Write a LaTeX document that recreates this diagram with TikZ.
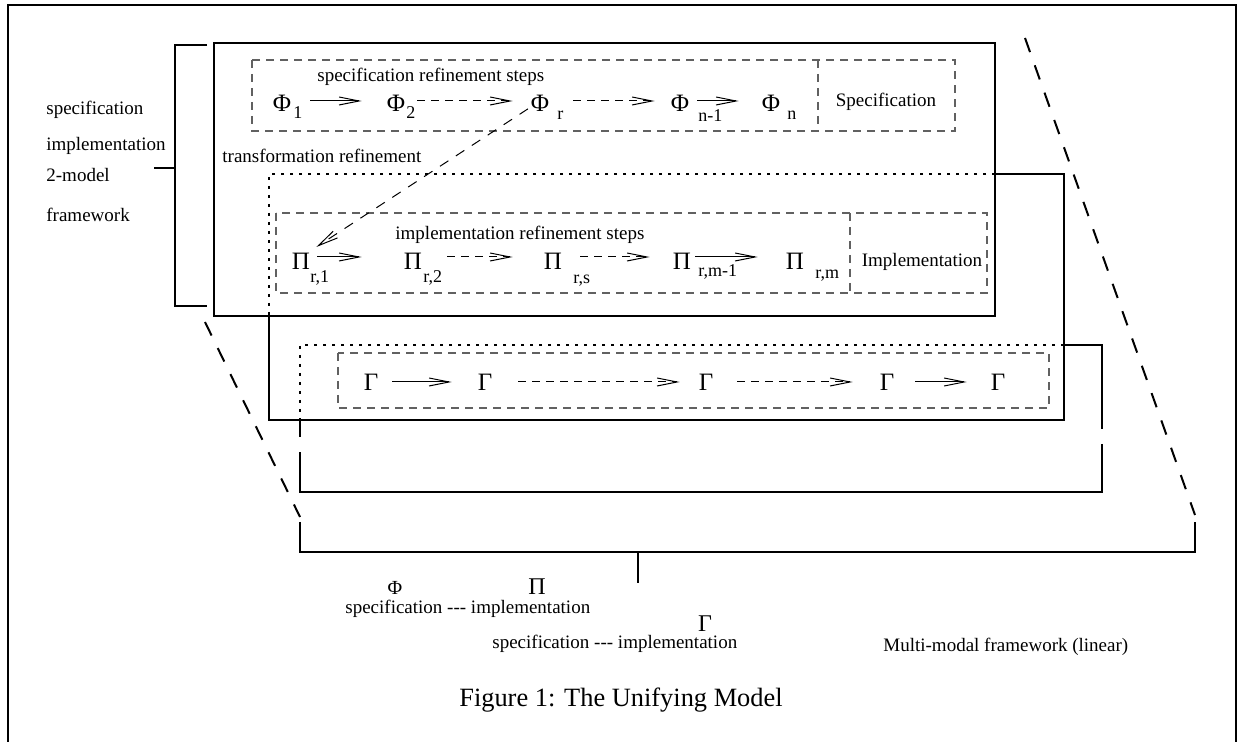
\documentclass[tikz,border=0pt]{standalone}
\usepackage{fontspec}
\setmainfont{Liberation Serif}
\usetikzlibrary{arrows.meta}
\newcommand\hyph{\mbox{-}}
\begin{document}
\begin{tikzpicture}[x=0.5pt,y=-0.5pt,
  heavy/.style={line width=1pt},
  dotted line/.style={line width=1.3pt, dash pattern=on 1.3pt off 3.2pt},
  graydash/.style={draw=black!62, line width=0.65pt, dash pattern=on 4pt off 3pt},
  funnel/.style={line width=1pt, dash pattern=on 7.5pt off 7pt},
  txt/.style={font=\fontsize{9.5}{11}\selectfont, inner sep=0pt},
  lbl/.style={txt, anchor=base west},
  ctr/.style={txt, anchor=base},
  sub/.style={font=\fontsize{9}{10}\selectfont, inner sep=0pt, anchor=base west},
  greek/.style={font=\fontsize{12.5}{14}\selectfont, inner sep=0pt, minimum width=10pt, anchor=base, text depth=0pt},
  phirow/.style={greek, text height=11pt},
  pirow/.style={greek, text height=13pt},
  gammarow/.style={greek, text height=9pt},
  legendgreek/.style={inner sep=0pt, anchor=base, text depth=0pt},
  sarrow/.style={line width=0.5pt, -{Straight Barb[length=10pt,width=4pt]}},
  darrow/.style={sarrow, dash pattern=on 4pt off 3pt},
  tarrow/.style={sarrow, dash pattern=on 5pt off 4.5pt}]
\useasboundingbox (0,0) rectangle (1247,742);

% page frame, open at the bottom
\draw[heavy] (8,742) -- (8,5) -- (1236,5) -- (1236,742);

% left brace of the 2-model framework
\draw[heavy] (207,45) -- (175,45) -- (175,306) -- (207,306);
\draw[heavy] (154,168) -- (175,168);
\node[lbl] (lspec) at (46,115) {specification};
\node[lbl] (limpl) at (46,151) {implementation};
\node[lbl] (lmodel) at (46,182) {2\hyph model};
\node[lbl] (lframe) at (46,222) {framework};

% first model
\draw[heavy] (214,43) rectangle (995,316);
% second model: hidden parts dotted
\draw[dotted line] (995,174) -- (269,174) -- (269,316);
\draw[heavy] (995,174) -- (1064,174) -- (1064,420) -- (269,420) -- (269,316);
% third model: hidden parts dotted
\draw[dotted line] (1064,345) -- (300,345) -- (300,420);
\draw[heavy] (1064,345) -- (1102,345) -- (1102,429);
\draw[heavy] (1102,444) -- (1102,492) -- (300,492) -- (300,452);
\draw[heavy] (300,437) -- (300,420);

% funnel to the multi-modal framework
\draw[funnel] (205,322) -- (300,517);
\draw[funnel] (1025,38) -- (1195,515);
\draw[heavy] (300,522) -- (300,552) -- (1195,552) -- (1195,522);
\draw[heavy] (638,552) -- (638,583);

% specification chain
\draw[graydash] (252,60) rectangle (955,131);
\draw[graydash] (818,60) -- (818,131);
\node[lbl] (specsteps) at (317,82) {specification refinement steps};
\node[ctr] (spec) at (886,107) {Specification};
\node[phirow] (phi1) at (282,112) {Φ};
\node[sub] (phi1s) at (293,119) {1};
\node[phirow] (phi2) at (396,112) {Φ};
\node[sub] (phi2s) at (406,119) {2};
\node[phirow] (phir) at (540,112) {Φ};
\node[sub] (phirs) at (557,120) {r};
\node[phirow] (phin1) at (680,112) {Φ};
\node[sub] (phin1s) at (698,122) {n\hyph 1};
\node[phirow] (phin) at (771,112) {Φ};
\node[sub] (phins) at (787,120) {n};
\draw[sarrow, shorten <=9pt, shorten >=12pt] (phi1) -- (phi2);
\draw[darrow, shorten <=5.5pt, shorten >=8.5pt] (phi2) -- (phir);
\draw[darrow, shorten <=11.5pt, shorten >=7.5pt] (phir) -- (phin1);
\draw[sarrow, shorten <=3.5pt, shorten >=11pt] (phin1) -- (phin);

\node[lbl] (transf) at (222,163) {transformation refinement};

% implementation chain
\draw[graydash] (276,213) rectangle (987,293);
\draw[graydash] (850,213) -- (850,293);
\node[lbl] (implsteps) at (395,240) {implementation refinement steps};
\node[ctr] (impl) at (922,267) {Implementation};
\node[pirow] (pi1) at (301,270) {Π};
\node[sub] (pi1s) at (310,283) {r,1};
\node[pirow] (pi2) at (413,270) {Π};
\node[sub] (pi2s) at (423,283) {r,2};
\node[pirow] (pirs) at (553,270) {Π};
\node[sub] (pirss) at (573,284) {r,s};
\node[pirow] (pim1) at (682,270) {Π};
\node[sub] (pim1s) at (698,277) {r,m\hyph 1};
\node[pirow] (pim) at (795,270) {Π};
\node[sub] (pims) at (815,279) {r,m};
\draw[sarrow, shorten <=3pt, shorten >=20.5pt] (pi1) -- (pi2);
\draw[darrow, shorten <=12pt, shorten >=15pt] (pi2) -- (pirs);
\draw[darrow, shorten <=8.5pt, shorten >=11pt] (pirs) -- (pim1);
\draw[sarrow, shorten <=1.5pt, shorten >=13.5pt] (pim1) -- (pim);

% transformation step
\draw[tarrow, shorten <=1pt, shorten >=3pt] (phir) -- (pi1);

% third chain
\draw[graydash] (338,353) rectangle (1049,408);
\node[gammarow] (g1) at (371,391) {Γ};
\node[gammarow] (g2) at (485,391) {Γ};
\node[gammarow] (g3) at (706,391) {Γ};
\node[gammarow] (g4) at (887,391) {Γ};
\node[gammarow] (g5) at (998,391) {Γ};
\draw[sarrow, shorten <=5.5pt, shorten >=11.5pt] (g1) -- (g2);
\draw[darrow, shorten <=11.5pt, shorten >=8pt] (g2) -- (g3);
\draw[darrow, shorten <=10.5pt, shorten >=12pt] (g3) -- (g4);
\draw[sarrow, shorten <=9pt, shorten >=10.5pt] (g4) -- (g5);

% legend
\node[legendgreek, font=\fontsize{10}{11}\selectfont] (lphi) at (395,595) {Φ};
\node[legendgreek, font=\fontsize{12}{13}\selectfont] (lpi) at (537,595) {Π};
\node[lbl] (leg1) at (345,613) {specification \hyph\hyph\hyph\ implementation};
\node[legendgreek, font=\fontsize{12}{13}\selectfont] (lgamma) at (705,631) {Γ};
\node[lbl] (leg2) at (492,648) {specification \hyph\hyph\hyph\ implementation};
\node[lbl] (multi) at (883,651) {Multi\hyph modal framework (linear)};

\node[font=\fontsize{13.2}{15}\selectfont, inner sep=0pt, anchor=base] (caption) at (621,706) {Figure 1: The Unifying Model};
\end{tikzpicture}
\end{document}
